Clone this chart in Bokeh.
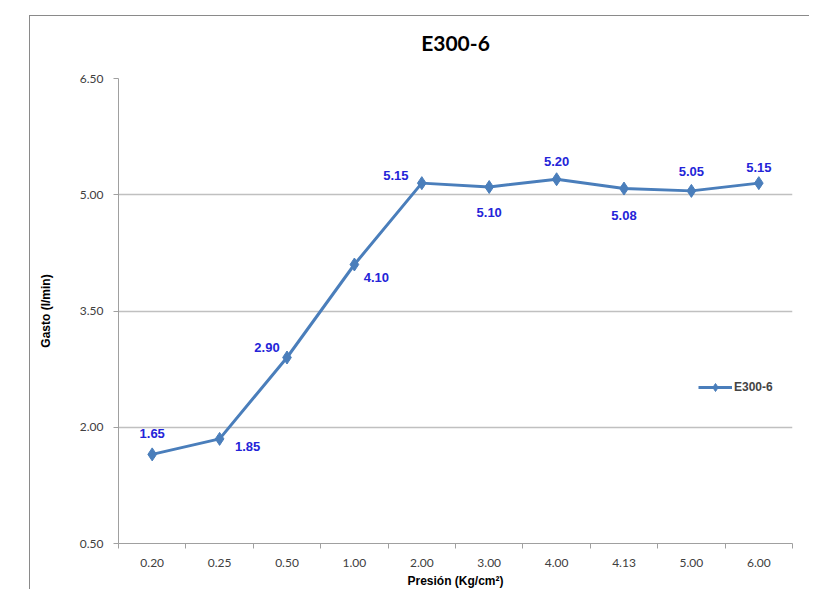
from bokeh.plotting import figure
from bokeh.models import FixedTicker, Legend, LegendItem, ColumnDataSource, Range1d, Title
from bokeh.core.properties import value
from bokeh.embed import file_html
from bokeh.resources import INLINE

categories = ["0.20", "0.25", "0.50", "1.00", "2.00", "3.00", "4.00", "4.13", "5.00", "6.00"]
gasto = [1.65, 1.85, 2.90, 4.10, 5.15, 5.10, 5.20, 5.08, 5.05, 5.15]
y_ticks = [0.50, 2.00, 3.50, 5.00, 6.50]
series_name = "E300-6"

# label placement (screen offsets, styling only)
label_dx = [0, 28, -20, 22, -26, 0, 0, 0, 0, 0]
label_dy = [-21, 8, -10, 13, -8, 25, -18, 27, -19, -16]

xs = [i + 0.5 for i in range(len(categories))]
src = ColumnDataSource(dict(x=xs, y=gasto, lab=["%.2f" % v for v in gasto], dx=label_dx, dy=label_dy))

p = figure(width=780, height=574, output_backend="svg", toolbar_location=None,
           x_range=Range1d(0, len(categories)), y_range=Range1d(0.5, 6.5),
           min_border_left=88, min_border_right=18, min_border_top=62, min_border_bottom=41,
           border_fill_color="white", title=None,
           margin=(15, 0, 0, 29),
           styles={"border-left": "1px solid #8a8a8a", "border-top": "1px solid #8a8a8a"})
p.outline_line_color = None
p.background_fill_color = "white"

# spacer title (nearest the frame) then the real title above it
p.add_layout(Title(text=" ", text_font_size="7px"), "above")
p.add_layout(Title(text=series_name, align="center", text_font="Lato", text_font_size="21px",
                   text_font_style="bold", text_color="#000000"), "above")

l = p.line("x", "y", source=src, line_color="#4A7EBB", line_width=3)
m = p.scatter("x", "y", source=src, marker="diamond", size=13, fill_color="#4A7EBB", line_color="#4A7EBB")
p.text("x", "y", text="lab", source=src, x_offset="dx", y_offset="dy", text_align="center",
       text_baseline="middle", text_font=value("Liberation Sans"), text_font_size="13px",
       text_font_style="bold", text_color="#2424D8")

# axes
p.xaxis.ticker = FixedTicker(ticks=xs, minor_ticks=list(range(len(categories) + 1)))
p.xaxis.major_label_overrides = {x: c for x, c in zip(xs, categories)}
p.xaxis.major_tick_out = 0
p.xaxis.major_tick_in = 0
p.xaxis.minor_tick_out = 5
p.xaxis.minor_tick_in = 0
p.xaxis.minor_tick_line_color = "#a0a0a0"
p.xaxis.axis_line_color = "#a0a0a0"
p.xaxis.axis_label = "Presión (Kg/cm²)"

p.yaxis.ticker = FixedTicker(ticks=y_ticks)
p.yaxis.major_label_overrides = {t: "%.2f" % t for t in y_ticks}
p.yaxis.major_tick_out = 5
p.yaxis.major_tick_in = 0
p.yaxis.minor_tick_line_color = None
p.yaxis.major_tick_line_color = "#a0a0a0"
p.yaxis.axis_line_color = "#a0a0a0"
p.yaxis.axis_label = "Gasto (l/min)"

for ax in (p.xaxis, p.yaxis):
    ax.major_label_text_font = "Lato"
    ax.major_label_text_font_size = "12px"
    ax.major_label_text_color = "#404040"
    ax.axis_label_text_font = "Liberation Sans"
    ax.axis_label_text_font_size = "12px"
    ax.axis_label_text_font_style = "bold"
    ax.axis_label_text_color = "#000000"
p.xaxis.major_label_standoff = 10
p.xaxis.axis_label_standoff = 4
p.yaxis.major_label_standoff = 10
p.yaxis.axis_label_standoff = 24

p.xgrid.grid_line_color = None
p.ygrid.grid_line_color = "#c0c0c0"
p.ygrid.grid_line_width = 1.5

legend = Legend(items=[LegendItem(label=series_name, renderers=[l, m])], location=(580, 146),
                border_line_color=None, background_fill_alpha=0,
                label_text_font="Liberation Sans", label_text_font_size="12px",
                label_text_font_style="bold", glyph_width=34, label_standoff=2)
p.add_layout(legend)

open("out.html", "w").write(file_html(p, INLINE))
